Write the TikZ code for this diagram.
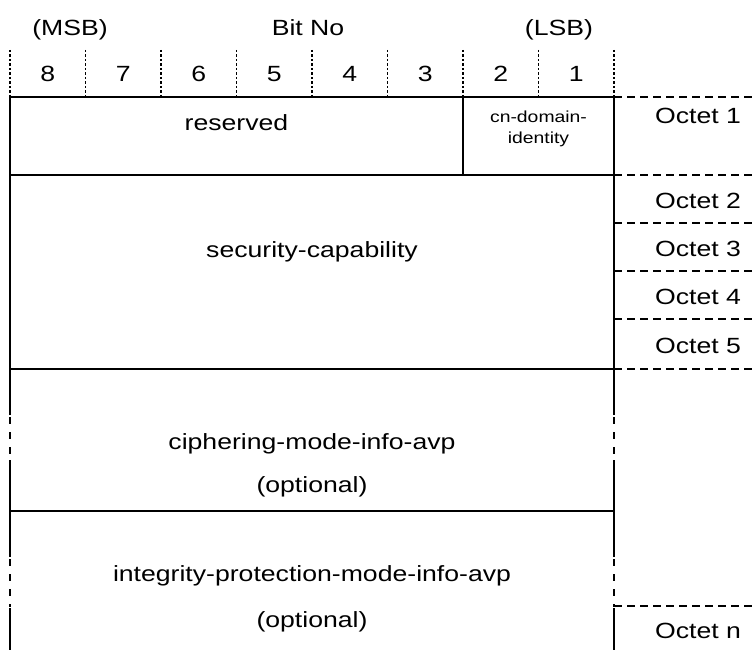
\documentclass[tikz,border=0pt]{standalone}
\usepackage{fontspec}
\setmainfont{Liberation Sans}[FakeStretch=1.21]
\usepackage{tikz}

\tikzset{
  lbl/.style={anchor=base, inner sep=0pt, font=\fontsize{22}{26}\selectfont},
  small/.style={anchor=base, inner sep=0pt, font=\fontsize{16}{20}\selectfont},
  frame/.style={line width=1.8pt},
  edgedash/.style={line width=1.8pt, dash pattern=on 7pt off 8pt},
  octline/.style={line width=1.8pt, dash pattern=on 8pt off 5pt},
  bitline/.style={line width=1.1pt, dash pattern=on 2.5pt off 2pt}
}

\begin{document}
\begin{tikzpicture}[x=1pt, y=-1pt]
    \useasboundingbox (0,0) rectangle (754,650);

    % Header
    \node[lbl] (msb) at (70,36) {(MSB)};
    \node[lbl] (bitno) at (308,36) {Bit No};
    \node[lbl] (lsb) at (559,36) {(LSB)};

    % Bit numbers and dotted separators
    \foreach \i in {0,...,8} {
        \draw[bitline] (10+75.5*\i,50) -- (10+75.5*\i,97);
    }
    \foreach \b [count=\i from 0] in {8,7,6,5,4,3,2,1} {
        \node[lbl] (bit\b) at (47.75+75.5*\i,82) {\b};
    }

    % Table body
    \draw[frame] (10,415) -- (10,97) -- (614,97) -- (614,415);
    \draw[frame] (10,175) -- (614,175);
    \draw[frame] (463,97) -- (463,175);
    \draw[frame] (10,369) -- (614,369);
    \draw[frame] (10,460) -- (10,557);
    \draw[frame] (614,460) -- (614,557);
    \draw[frame] (10,511) -- (614,511);
    \draw[frame] (10,608) -- (10,650);
    \draw[frame] (614,608) -- (614,650);

    % Optional parts of the edges
    \foreach \x in {10,614} {
        \draw[edgedash] (\x,417) -- (\x,456);
        \draw[edgedash] (\x,559) -- (\x,607);
    }

    % Octet separators
    \foreach \y in {97,175,223,271,319,369,606} {
        \draw[octline] (614,\y) -- (754,\y);
    }

    % Field names
    \node[lbl] (reserved) at (236.5,131) {reserved};
    \node[small] (cndom) at (538.5,122) {cn-domain-};
    \node[small] (cnid) at (538.5,143) {identity};
    \node[lbl] (seccap) at (312,257) {security-capability};
    \node[lbl] (ciph) at (312,449) {ciphering-mode-info-avp};
    \node[lbl] (ciphopt) at (312,492) {(optional)};
    \node[lbl] (integ) at (312,581) {integrity-protection-mode-info-avp};
    \node[lbl] (integopt) at (312,627) {(optional)};

    % Octet labels
    \node[lbl] (oct1) at (698,124) {Octet 1};
    \node[lbl] (oct2) at (698,208) {Octet 2};
    \node[lbl] (oct3) at (698,256) {Octet 3};
    \node[lbl] (oct4) at (698,304) {Octet 4};
    \node[lbl] (oct5) at (698,353) {Octet 5};
    \node[lbl] (octn) at (698,638) {Octet n};
\end{tikzpicture}
\end{document}
